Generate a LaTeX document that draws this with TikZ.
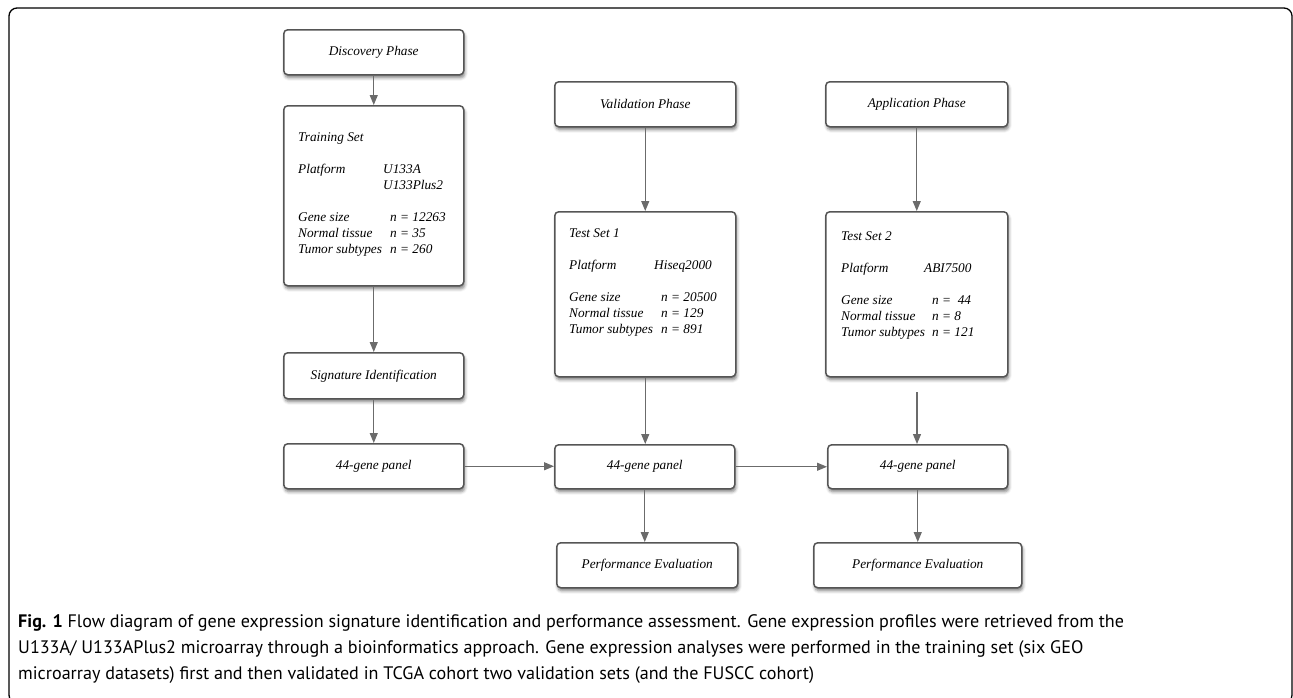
\documentclass[tikz,border=0pt]{standalone}
\usepackage{fontspec}
\setmainfont{Liberation Serif}
\newfontfamily\capfont{PT Sans}
\usetikzlibrary{shadows.blur,arrows.meta}
\definecolor{boxgray}{HTML}{555555}
\definecolor{arrgray}{HTML}{6B6B6B}
\tikzset{
  box/.style={draw=boxgray, line width=1.5pt, rounded corners=4pt, fill=white,
    inner sep=0pt, anchor=north west,
    blur shadow={shadow xshift=1pt, shadow yshift=-3pt, shadow blur radius=3pt, shadow opacity=50},
    font=\fontsize{13.3}{16}\selectfont\itshape},
  conn/.style={draw=arrgray, line width=1.2pt, -{Triangle[length=10pt,width=8pt]}},
  txt/.style={anchor=base west, inner sep=0pt, font=\fontsize{13.3}{16}\selectfont\itshape},
  frame/.style={draw=black, line width=1.3pt, rounded corners=8pt},
  captxt/.style={anchor=base west, inner sep=0pt, font=\capfont\fontsize{18.1}{26}\selectfont},
}
\begin{document}
\begin{tikzpicture}[x=1pt,y=-1pt]
\useasboundingbox (0,0) rectangle (1293,697);
\begin{scope}
  \clip (0,0) rectangle (1293,697);
  \draw[frame] (9,8) rectangle (1292,703);
\end{scope}

% left column
\node[box, minimum width=180pt, minimum height=45pt] (disc) at (283,29) {Discovery Phase};
\node[box, minimum width=180pt, minimum height=180pt] (train) at (283,105) {};
\node[box, minimum width=180pt, minimum height=46pt] (sig) at (283,352) {Signature Identification};
\node[box, minimum width=180pt, minimum height=45pt] (p1) at (283,443) {44-gene panel};

% middle column
\node[box, minimum width=181pt, minimum height=45pt] (val) at (554,81) {Validation Phase};
\node[box, minimum width=181pt, minimum height=165pt] (t1) at (554,211) {};
\node[box, minimum width=180pt, minimum height=44pt] (p2) at (554,444) {44-gene panel};
\node[box, minimum width=181pt, minimum height=45pt] (pe1) at (556,542) {Performance Evaluation};

% right column
\node[box, minimum width=182pt, minimum height=45pt] (app) at (825,81) {Application Phase};
\node[box, minimum width=182pt, minimum height=165pt] (t2) at (825,211) {};
\node[box, minimum width=180pt, minimum height=44pt] (p3) at (827,444) {44-gene panel};
\node[box, minimum width=208pt, minimum height=45pt] (pe2) at (813,542) {Performance Evaluation};

% box contents
\node[txt] (trtxt) at (298,141) {\begin{tabular}[t]{@{}l@{}}
Training Set\\
\\
\makebox[85pt][l]{Platform}U133A\\
\makebox[85pt][l]{}U133Plus2\\
\\
\makebox[92pt][l]{Gene size}n = 12263\\
\makebox[92pt][l]{Normal tissue}n = 35\\
\makebox[92pt][l]{Tumor subtypes}n = 260
\end{tabular}};

\node[txt] (t1txt) at (569,237) {\begin{tabular}[t]{@{}l@{}}
Test Set 1\\
\\
\makebox[85pt][l]{Platform}Hiseq2000\\
\\
\makebox[92pt][l]{Gene size}n = 20500\\
\makebox[92pt][l]{Normal tissue}n = 129\\
\makebox[92pt][l]{Tumor subtypes}n = 891
\end{tabular}};

\node[txt] (t2txt) at (841,240) {\begin{tabular}[t]{@{}l@{}}
Test Set 2\\
\\
\makebox[83pt][l]{Platform}ABI7500\\
\\
\makebox[91pt][l]{Gene size}n =\ \ 44\\
\makebox[91pt][l]{Normal tissue}n = 8\\
\makebox[91pt][l]{Tumor subtypes}n = 121
\end{tabular}};

% connectors
\draw[conn] (disc) -- (train);
\draw[conn] (train) -- (sig);
\draw[conn] (sig) -- (p1);
\draw[conn] (val) -- (t1);
\draw[conn] (app.south) -- (app.south |- t2.north);
\draw[conn] (t1.south) -- (t1.south |- p2.north);
\coordinate (t2b) at (917,392);
\draw[conn] (t2b) -- (t2b |- p3.north);
\draw[conn] (p1.east) -- (p1.east -| p2.west);
\draw[conn] (p2.east) -- (p2.east -| p3.west);
\draw[conn] (p2.south) -- (p2.south |- pe1.north);
\draw[conn] (p3.south) -- (p3.south |- pe2.north);

% caption
\node[captxt] (cap) at (18,627) {\begin{tabular}[t]{@{}l@{}}
\textbf{Fig. 1} Flow diagram of gene expression signature identification and performance assessment. Gene expression profiles were retrieved from the\\
U133A/ U133APlus2 microarray through a bioinformatics approach. Gene expression analyses were performed in the training set (six GEO\\
microarray datasets) first and then validated in TCGA cohort two validation sets (and the FUSCC cohort)
\end{tabular}};
\end{tikzpicture}
\end{document}
